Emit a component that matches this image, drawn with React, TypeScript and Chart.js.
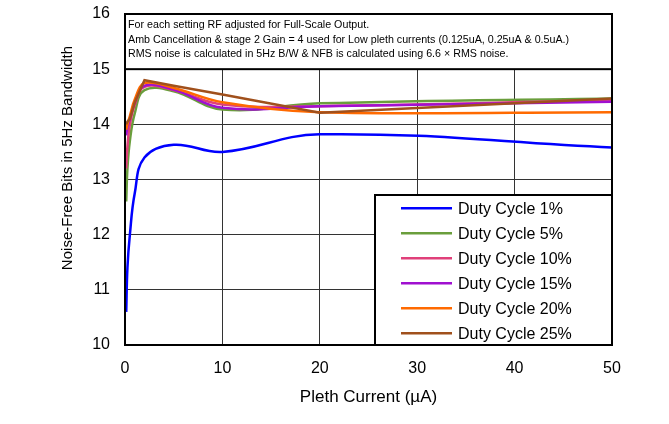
import React, { useEffect, useRef } from "react";
import { Chart, registerables } from "chart.js";

Chart.register(...registerables);

// ---- data ----
const pleth_uA = [0.125, 0.25, 0.5, 1, 2, 5, 10, 20, 50];
const dutyCycle1 = [10.6, 11.4, 12.0, 12.75, 13.4, 13.63, 13.5, 13.82, 13.58];
const dutyCycle5 = [12.6, 13.2, 13.7, 14.2, 14.62, 14.6, 14.27, 14.38, 14.47];
const dutyCycle10 = [13.2, 13.6, 14.0, 14.35, 14.68, 14.62, 14.36, 14.33, 14.44];
const dutyCycle15 = [13.8, 13.95, 14.1, 14.4, 14.7, 14.63, 14.3, 14.33, 14.41];
const dutyCycle20 = [13.9, 14.0, 14.15, 14.45, 14.75, 14.66, 14.4, 14.22, 14.22];
const dutyCycle25 = [14.0, 14.05, 14.1, 14.4, 14.8, 14.7, 14.54, 14.21, 14.47];

const seriesLabels = [
  "Duty Cycle 1%",
  "Duty Cycle 5%",
  "Duty Cycle 10%",
  "Duty Cycle 15%",
  "Duty Cycle 20%",
  "Duty Cycle 25%",
];
const seriesValues = [dutyCycle1, dutyCycle5, dutyCycle10, dutyCycle15, dutyCycle20, dutyCycle25];
const seriesColors = ["#0000FF", "#6A9E3C", "#E0407A", "#A010D0", "#FF6A00", "#A0501C"];
const seriesTension = [0.4, 0.4, 0.4, 0.4, 0.35, 0];

const noteLines = [
  "For each setting RF adjusted for Full-Scale Output.",
  "Amb Cancellation & stage 2 Gain = 4 used for Low pleth currents (0.125uA, 0.25uA & 0.5uA.)",
  "RMS noise is calculated in 5Hz B/W & NFB is calculated using 6.6 \u00d7 RMS noise.",
];
const yTitle = "Noise-Free Bits in 5Hz Bandwidth";
const xTitle = "Pleth Current (\u00b5A)";

const FONT = "'Liberation Sans', Arial, sans-serif";

const overlayPlugin = {
  id: "overlay",
  afterDatasetsDraw(chart: any) {
    const { ctx, chartArea, scales } = chart;
    const { left, right, top, bottom } = chartArea;
    ctx.save();
    // note box
    const boxBottom = scales.y.getPixelForValue(15);
    ctx.fillStyle = "#ffffff";
    ctx.fillRect(left, top, right - left, boxBottom - top);
    ctx.strokeStyle = "#000";
    ctx.lineWidth = 2;
    ctx.strokeRect(left, top, right - left, boxBottom - top);
    ctx.fillStyle = "#000";
    ctx.font = `10.7px ${FONT}`;
    ctx.textBaseline = "middle";
    ctx.textAlign = "left";
    noteLines.forEach((t, i) => ctx.fillText(t, left + 3, top + 11 + i * 14.6));

    // frame
    ctx.lineWidth = 2;
    ctx.strokeRect(left, top, right - left, bottom - top);

    // legend
    const lx = 375;
    const ly = 195;
    ctx.fillStyle = "#ffffff";
    ctx.fillRect(lx, ly, right - lx, bottom - ly);
    ctx.strokeStyle = "#000";
    ctx.lineWidth = 2;
    ctx.strokeRect(lx, ly, right - lx, bottom - ly);
    ctx.font = `16px ${FONT}`;
    chart.data.datasets.forEach((ds: any, i: number) => {
      const cy = ly + 13.3 + i * 25;
      ctx.strokeStyle = ds.borderColor;
      ctx.lineWidth = 2.5;
      ctx.beginPath();
      ctx.moveTo(401, cy);
      ctx.lineTo(452, cy);
      ctx.stroke();
      ctx.fillStyle = "#000";
      ctx.fillText(ds.label, 458, cy + 1);
    });

    // y title
    ctx.translate(68, 158);
    ctx.rotate(-Math.PI / 2);
    ctx.textAlign = "center";
    ctx.font = `15px ${FONT}`;
    ctx.fillText(yTitle, 0, 0);
    ctx.restore();
  },
};

export default function App() {
  const ref = useRef<HTMLCanvasElement | null>(null);
  useEffect(() => {
    if (!ref.current) return;
    const chart = new Chart(ref.current, {
      type: "line",
      data: {
        datasets: seriesLabels.map((label, i) => ({
          label,
          data: pleth_uA.map((x, j) => ({ x, y: seriesValues[i][j] })),
          borderColor: seriesColors[i],
          backgroundColor: seriesColors[i],
          borderWidth: 2.5,
          pointRadius: 0,
          tension: seriesTension[i],
          fill: false,
          order: seriesLabels.length - i,
        })),
      },
      options: {
        animation: false,
        responsive: false,
        devicePixelRatio: 1,
        layout: { padding: { top: 14, right: 57, left: 0, bottom: 0 } },
        plugins: { legend: { display: false }, tooltip: { enabled: false } },
        scales: {
          x: {
            type: "linear",
            min: 0,
            max: 50,
            ticks: { stepSize: 10, color: "#000", font: { family: FONT, size: 16 }, padding: 14 },
            grid: { color: "#333", lineWidth: 1, drawTicks: false },
            border: { color: "#000", width: 2 },
            title: {
              display: true,
              text: xTitle,
              color: "#000",
              font: { family: FONT, size: 17 },
              padding: { top: 0, bottom: 16 },
            },
            afterFit: (s: any) => {
              s.height = 79;
              s.paddingLeft = 0;
              s.paddingRight = 0;
            },
          },
          y: {
            type: "linear",
            min: 10,
            max: 16,
            ticks: { stepSize: 1, color: "#000", font: { family: FONT, size: 16 }, padding: 15 },
            grid: { color: "#333", lineWidth: 1, drawTicks: false },
            border: { color: "#000", width: 2 },
            afterFit: (s: any) => {
              s.width = 125;
              s.paddingTop = 0;
              s.paddingBottom = 0;
            },
          },
        },
      },
      plugins: [overlayPlugin],
    });
    return () => chart.destroy();
  }, []);
  return (
    <div style={{ position: "absolute", left: 0, top: 0, width: 669, height: 424, background: "#fff" }}>
      <canvas ref={ref} width={669} height={424} style={{ width: 669, height: 424 }} />
    </div>
  );
}
